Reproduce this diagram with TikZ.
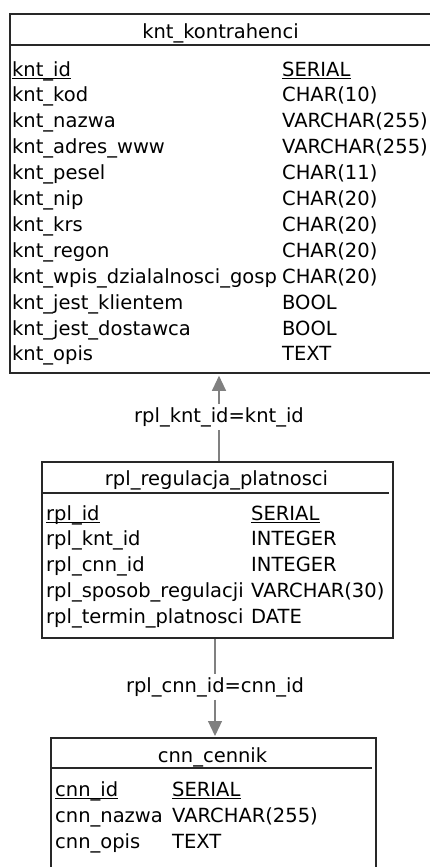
\documentclass[tikz,border=0pt]{standalone}
\usepackage{fontspec}
\setmainfont{DejaVu Sans}
\usetikzlibrary{arrows.meta}
\definecolor{boxline}{RGB}{40,40,40}
\definecolor{linkgray}{RGB}{128,128,128}
\newcommand{\erfont}{\fontsize{19.5}{24}\selectfont}
\tikzset{
  table/.style={draw=boxline, line width=1.8pt, inner sep=0pt, anchor=north west},
  rule/.style={draw=boxline, line width=1.8pt},
  cell/.style={anchor=base west, inner sep=0pt, font=\erfont},
  title/.style={anchor=base, inner sep=0pt, font=\erfont},
  uline/.style={draw=black, line width=1.3pt},
  link/.style={draw=linkgray, line width=1.2pt},
  linktip/.style={-{Triangle[length=15pt,width=14pt]}},
  linklabel/.style={inner sep=3pt, font=\erfont},
}
\begin{document}
\begin{tikzpicture}[x=1pt,y=-1pt]
\useasboundingbox (0,0) rectangle (430,867);
\clip (0,0) rectangle (430,867);

% ---- knt_kontrahenci ----
\node[table, minimum width=423pt, minimum height=359pt] (knt) at (9,13) {};
\draw[rule] (9,45) -- (432,45);
\node[title] (knt-title) at (220.5,38) {knt\_kontrahenci};
\foreach \n/\t [count=\i from 0] in {
  knt\_id/SERIAL, knt\_kod/CHAR(10), knt\_nazwa/VARCHAR(255),
  knt\_adres\_www/VARCHAR(255), knt\_pesel/CHAR(11), knt\_nip/CHAR(20),
  knt\_krs/CHAR(20), knt\_regon/CHAR(20), knt\_wpis\_dzialalnosci\_gosp/CHAR(20),
  knt\_jest\_klientem/BOOL, knt\_jest\_dostawca/BOOL, knt\_opis/TEXT}{
  \node[cell] (knt-n\i) at (12,{76+\i*25.9}) {\n};
  \node[cell] (knt-t\i) at (282,{76+\i*25.9}) {\t};
}
\draw[uline] ([yshift=-2.5pt]knt-n0.base west) -- ([yshift=-2.5pt]knt-n0.base east);
\draw[uline] ([yshift=-2.5pt]knt-t0.base west) -- ([yshift=-2.5pt]knt-t0.base east);

% ---- rpl_regulacja_platnosci ----
\node[table, minimum width=351pt, minimum height=176pt] (rpl) at (41,461) {};
\draw[rule] (41,493) -- (389,493);
\node[title] (rpl-title) at (216.5,485) {rpl\_regulacja\_platnosci};
\foreach \n/\t [count=\i from 0] in {
  rpl\_id/SERIAL, rpl\_knt\_id/INTEGER, rpl\_cnn\_id/INTEGER,
  rpl\_sposob\_regulacji/VARCHAR(30), rpl\_termin\_platnosci/DATE}{
  \node[cell] (rpl-n\i) at (46,{520+\i*25.8}) {\n};
  \node[cell] (rpl-t\i) at (251,{520+\i*25.8}) {\t};
}
\draw[uline] ([yshift=-2.5pt]rpl-n0.base west) -- ([yshift=-2.5pt]rpl-n0.base east);
\draw[uline] ([yshift=-2.5pt]rpl-t0.base west) -- ([yshift=-2.5pt]rpl-t0.base east);

% ---- cnn_cennik ----
\node[table, minimum width=325pt, minimum height=150pt] (cnn) at (50,737) {};
\draw[rule] (50,768) -- (372,768);
\node[title] (cnn-title) at (212.5,762) {cnn\_cennik};
\foreach \n/\t [count=\i from 0] in {
  cnn\_id/SERIAL, cnn\_nazwa/VARCHAR(255), cnn\_opis/TEXT}{
  \node[cell] (cnn-n\i) at (55,{796+\i*26}) {\n};
  \node[cell] (cnn-t\i) at (172,{796+\i*26}) {\t};
}
\draw[uline] ([yshift=-2.5pt]cnn-n0.base west) -- ([yshift=-2.5pt]cnn-n0.base east);
\draw[uline] ([yshift=-2.5pt]cnn-t0.base west) -- ([yshift=-2.5pt]cnn-t0.base east);

% ---- relationships ----
\node[linklabel] (lab1) at (219,417) {rpl\_knt\_id=knt\_id};
\draw[link] (lab1 |- rpl.north) -- (lab1.south);
\draw[link, linktip, fill=linkgray, shorten >=2pt] (lab1.north) -- (lab1 |- knt.south);

\node[linklabel] (lab2) at (215,687) {rpl\_cnn\_id=cnn\_id};
\draw[link] (lab2 |- rpl.south) -- (lab2.north);
\draw[link, linktip, fill=linkgray, shorten >=1pt] (lab2.south) -- (lab2 |- cnn.north);
\end{tikzpicture}
\end{document}
